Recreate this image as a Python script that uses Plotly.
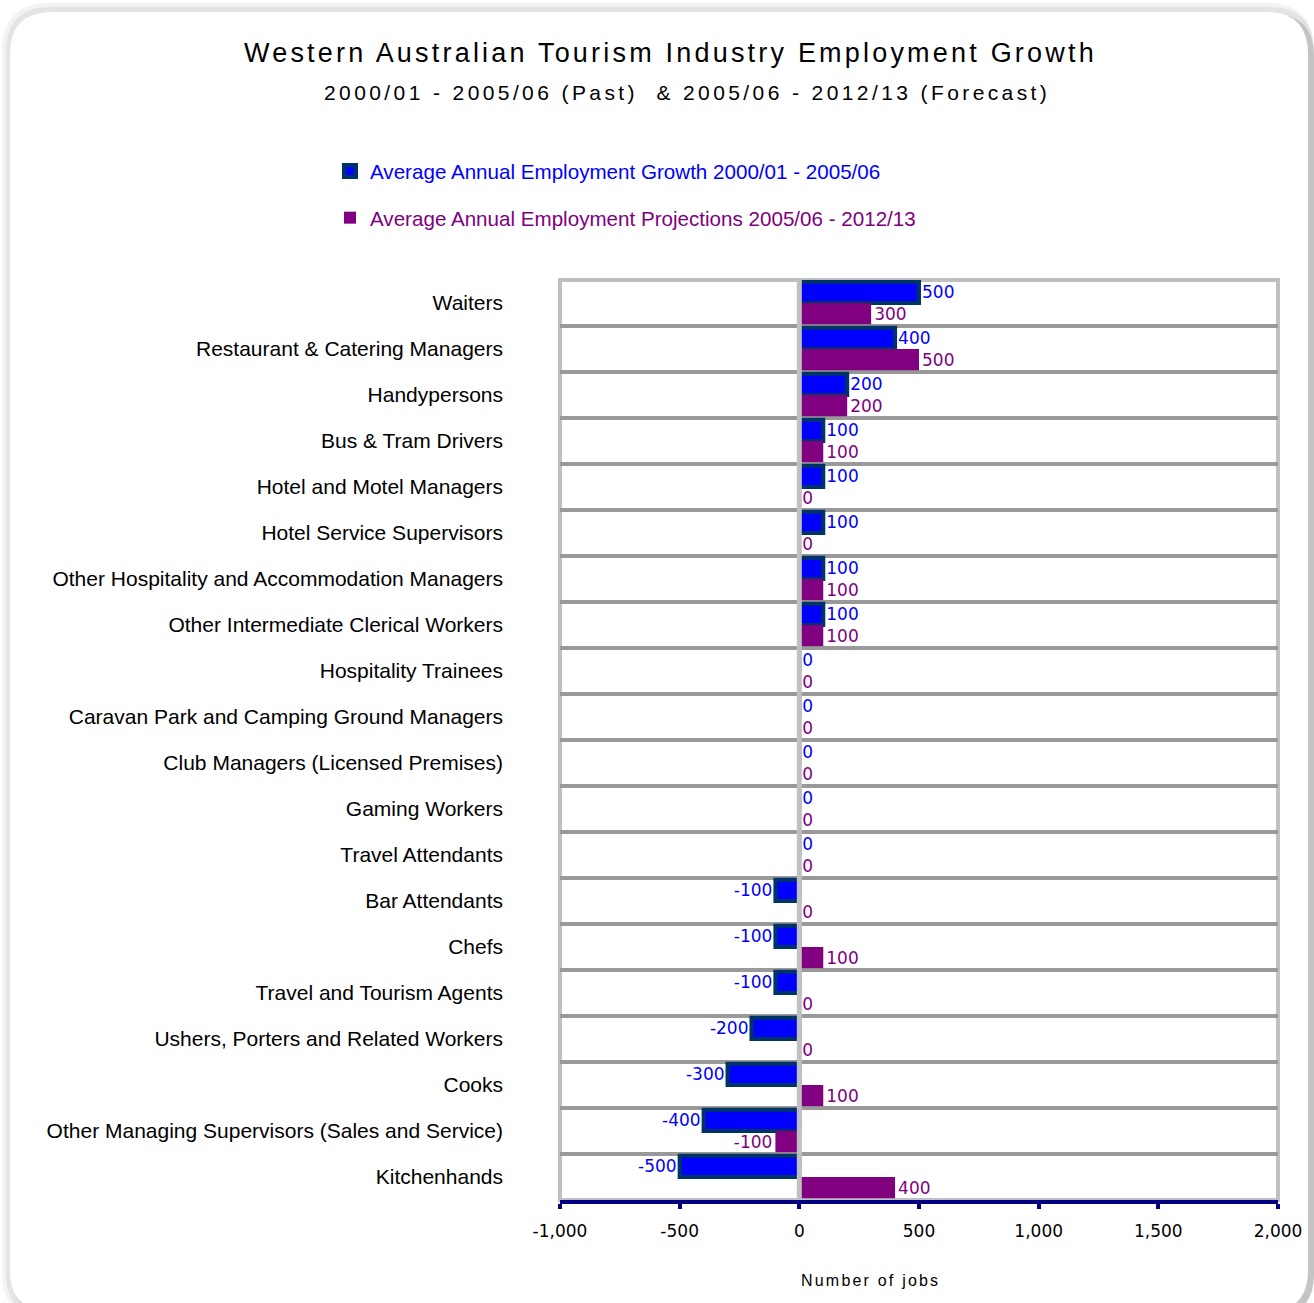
import plotly.graph_objects as go

# ---------------- data ----------------
categories = [
    "Waiters",
    "Restaurant & Catering Managers",
    "Handypersons",
    "Bus & Tram Drivers",
    "Hotel and Motel Managers",
    "Hotel Service Supervisors",
    "Other Hospitality and Accommodation Managers",
    "Other Intermediate Clerical Workers",
    "Hospitality Trainees",
    "Caravan Park and Camping Ground Managers",
    "Club Managers (Licensed Premises)",
    "Gaming Workers",
    "Travel Attendants",
    "Bar Attendants",
    "Chefs",
    "Travel and Tourism Agents",
    "Ushers, Porters and Related Workers",
    "Cooks",
    "Other Managing Supervisors (Sales and Service)",
    "Kitchenhands",
]
growth_2000_2006 = [500, 400, 200, 100, 100, 100, 100, 100, 0, 0, 0, 0, 0,
                    -100, -100, -100, -200, -300, -400, -500]
projection_2006_2013 = [300, 500, 200, 100, 0, 0, 100, 100, 0, 0, 0, 0, 0,
                        0, 100, 0, 0, 100, -100, 400]
series_names = [
    "Average Annual Employment Growth 2000/01 - 2005/06",
    "Average Annual Employment Projections 2005/06 - 2012/13",
]
x_tickvals = [-1000, -500, 0, 500, 1000, 1500, 2000]
x_ticktext = ["-1,000", "-500", "0", "500", "1,000", "1,500", "2,000"]
title_text = "Western Australian Tourism Industry Employment Growth"
subtitle_text = "2000/01 - 2005/06 (Past)  & 2005/06 - 2012/13 (Forecast)"
x_title = "Number of jobs"

# ---------------- layout helpers ----------------
W, H = 1314, 1303
L, R, T, B = 560, 1278, 280, 1200


def fx(p):
    return (p - L) / (R - L)


def fy(p):
    return (B - p) / (B - T)


BLUE = "#0000FF"
NAVY = "#003366"
PURPLE = "#800080"

fig = go.Figure()
fig.add_trace(go.Bar(
    y=categories, x=growth_2000_2006, orientation="h",
    name=f'<span style="color:{BLUE}">{series_names[0]}</span>',
    marker=dict(color=BLUE, line=dict(color=NAVY, width=4)),
    text=[f"{v:.0f}" for v in growth_2000_2006],
    textposition="outside", constraintext="none", cliponaxis=False,
    textfont=dict(family="DejaVu Sans", size=17, color=BLUE),
    legendgroup="a", hoverinfo="skip",
))
fig.add_trace(go.Bar(
    y=categories, x=projection_2006_2013, orientation="h",
    name=f'<span style="color:{PURPLE}">{series_names[1]}</span>',
    marker=dict(color=PURPLE, line=dict(width=0)),
    text=[f"{v:.0f}" for v in projection_2006_2013],
    textposition="outside", constraintext="none", cliponaxis=False,
    textfont=dict(family="DejaVu Sans", size=17, color=PURPLE),
    legendgroup="b", hoverinfo="skip",
))


def rounded_path(l, t, r, b, rad):
    pts = [
        f"M {fx(l)},{fy(t + rad)}",
        f"Q {fx(l)},{fy(t)} {fx(l + rad)},{fy(t)}",
        f"L {fx(r - rad)},{fy(t)}",
        f"Q {fx(r)},{fy(t)} {fx(r)},{fy(t + rad)}",
        f"L {fx(r)},{fy(b - rad)}",
        f"Q {fx(r)},{fy(b)} {fx(r - rad)},{fy(b)}",
        f"L {fx(l + rad)},{fy(b)}",
        f"Q {fx(l)},{fy(b)} {fx(l)},{fy(b - rad)}",
        "Z",
    ]
    return " ".join(pts)


shapes = [
    dict(type="path", xref="paper", yref="paper", layer="below",
         path=rounded_path(2, 3, 1314, 1320, 48), fillcolor="#f3f3f3", line=dict(width=0)),
    dict(type="path", xref="paper", yref="paper", layer="below",
         path=rounded_path(6, 7, 1314, 1318, 45), fillcolor="#e4e4e4", line=dict(width=0)),
    dict(type="path", xref="paper", yref="paper", layer="below",
         path=rounded_path(12, 14, 1314, 1316, 42), fillcolor="#c4c4c4", line=dict(width=0)),
    dict(type="path", xref="paper", yref="paper", layer="below",
         path=rounded_path(10, 12, 1308, 1312, 42), fillcolor="white", line=dict(width=0)),
    dict(type="rect", xref="paper", yref="paper", layer="below",
         x0=0, x1=1, y0=0, y1=1, line=dict(color="#c0c0c0", width=4)),
    dict(type="line", xref="x", yref="paper", layer="above",
         x0=0, x1=0, y0=0, y1=1, line=dict(color="#c0c0c0", width=5)),
]

annotations = [
    dict(xref="paper", yref="paper", x=fx(670), y=fy(53), showarrow=False,
         xanchor="center", yanchor="middle",
         text=f'<span style="letter-spacing:3.2px">{title_text}</span>',
         font=dict(family="Liberation Sans", size=27, color="black")),
    dict(xref="paper", yref="paper", x=fx(687), y=fy(92), showarrow=False,
         xanchor="center", yanchor="middle",
         text=f'<span style="letter-spacing:3.4px">{subtitle_text}</span>',
         font=dict(family="Liberation Sans", size=21, color="black")),
    dict(xref="paper", yref="paper", x=fx(870), y=fy(1280), showarrow=False,
         xanchor="center", yanchor="middle",
         text=f'<span style="letter-spacing:2.2px">{x_title}</span>',
         font=dict(family="Liberation Sans", size=16, color="black")),
]

fig.update_layout(
    width=W, height=H, autosize=False,
    margin=dict(l=L, r=W - R, t=T, b=H - B, pad=0),
    paper_bgcolor="white", plot_bgcolor="white",
    barmode="group", bargap=0.08, bargroupgap=0,
    hovermode=False,
    shapes=shapes, annotations=annotations,
    legend=dict(
        x=fx(330), y=fy(151), xanchor="left", yanchor="top",
        orientation="v", traceorder="grouped", tracegroupgap=17,
        font=dict(family="Liberation Sans", size=20.6),
        bgcolor="rgba(0,0,0,0)",
    ),
    xaxis=dict(
        range=[-1000, 2000], tickvals=x_tickvals, ticktext=x_ticktext,
        showgrid=False, zeroline=False,
        showline=True, linecolor="#000080", linewidth=4,
        ticks="outside", ticklen=5, tickwidth=4, tickcolor="#000080",
        tickfont=dict(family="DejaVu Sans", size=17, color="black"),
        ticklabelstandoff=8,
    ),
    yaxis=dict(
        type="category", autorange="reversed",
        tickson="boundaries", ticks="",
        showgrid=True, gridcolor="#999999", gridwidth=4,
        showline=False, zeroline=False,
        tickfont=dict(family="Liberation Sans", size=21, color="black"),
        ticklabelstandoff=56,
    ),
)

fig.write_html("out.html")
